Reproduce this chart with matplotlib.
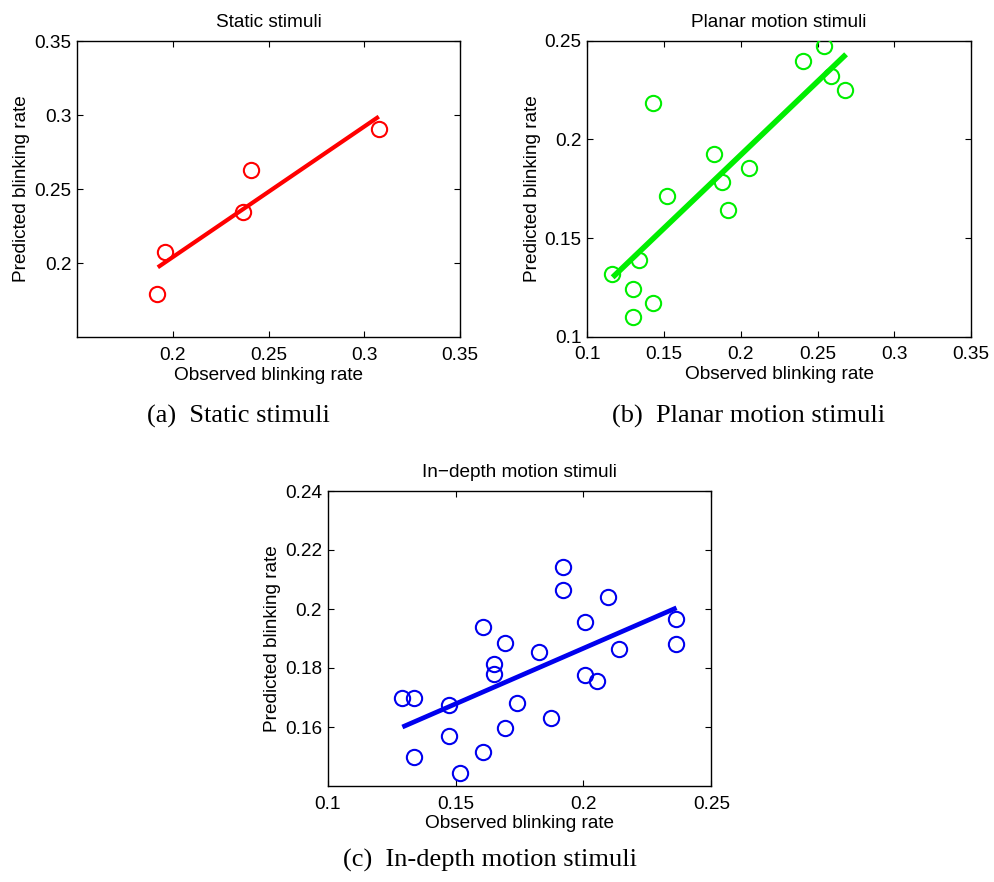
import matplotlib
matplotlib.use("Agg")
import matplotlib.pyplot as plt
import numpy as np

# ---------------- data ----------------
static_obs = [0.1918, 0.1960, 0.2366, 0.2408, 0.3078]
static_pred = [0.1790, 0.2077, 0.2346, 0.2627, 0.2903]
static_fit_x = [0.1922, 0.3076]
static_fit_y = [0.1971, 0.2989]

planar_obs = [0.1159, 0.1337, 0.1295, 0.1295, 0.1428, 0.1428, 0.1517, 0.1828,
              0.1875, 0.1914, 0.2051, 0.2407, 0.2544, 0.2586, 0.2679]
planar_pred = [0.1316, 0.1389, 0.1243, 0.1101, 0.1171, 0.2182, 0.1713, 0.1927,
               0.1785, 0.1640, 0.1856, 0.2397, 0.2473, 0.2323, 0.2250]
planar_fit_x = [0.1165, 0.2686]
planar_fit_y = [0.1301, 0.2431]

depth_obs = [0.1292, 0.1338, 0.1338, 0.1473, 0.1473, 0.1519, 0.1606, 0.1606,
             0.1652, 0.1652, 0.1695, 0.1695, 0.1740, 0.1827, 0.1873, 0.1919,
             0.1919, 0.2007, 0.2007, 0.2052, 0.2095, 0.2140, 0.2362, 0.2362]
depth_pred = [0.1698, 0.1698, 0.1497, 0.1674, 0.1570, 0.1445, 0.1938, 0.1515,
              0.1814, 0.1778, 0.1884, 0.1597, 0.1680, 0.1855, 0.1632, 0.2141,
              0.2066, 0.1956, 0.1775, 0.1756, 0.2042, 0.1864, 0.1965, 0.1880]
depth_fit_x = [0.1292, 0.2364]
depth_fit_y = [0.1600, 0.2004]

titles = ["Static stimuli", "Planar motion stimuli", "In\u2212depth motion stimuli"]
captions = ["(a)  Static stimuli", "(b)  Planar motion stimuli", "(c)  In-depth motion stimuli"]
xlabel = "Observed blinking rate"
ylabel = "Predicted blinking rate"

a_xticks = [0.2, 0.25, 0.3, 0.35]
a_xticklabels = ["0.2", "0.25", "0.3", "0.35"]
a_yticks = [0.2, 0.25, 0.3, 0.35]
a_yticklabels = ["0.2", "0.25", "0.3", "0.35"]
b_xticks = [0.1, 0.15, 0.2, 0.25, 0.3, 0.35]
b_xticklabels = ["0.1", "0.15", "0.2", "0.25", "0.3", "0.35"]
b_yticks = [0.1, 0.15, 0.2, 0.25]
b_yticklabels = ["0.1", "0.15", "0.2", "0.25"]
c_xticks = [0.1, 0.15, 0.2, 0.25]
c_xticklabels = ["0.1", "0.15", "0.2", "0.25"]
c_yticks = [0.16, 0.18, 0.2, 0.22, 0.24]
c_yticklabels = ["0.16", "0.18", "0.2", "0.22", "0.24"]

# ---------------- figure ----------------
W, H = 994, 882
fig = plt.figure(figsize=(W / 100, H / 100), dpi=100)
plt.rcParams['font.family'] = ['Liberation Sans', 'DejaVu Sans']
FS = 13.7

def px_axes(left, top, right, bottom):
    return [left / W, 1 - bottom / H, (right - left) / W, (bottom - top) / H]

panels = [
    dict(rect=px_axes(77, 41, 460, 337), obs=static_obs, pred=static_pred,
         fx=static_fit_x, fy=static_fit_y, color="#ff0000", lw=3.0,
         xlim=(0.15, 0.35), ylim=(0.15, 0.35),
         xt=a_xticks, xtl=a_xticklabels, yt=a_yticks, ytl=a_yticklabels),
    dict(rect=px_axes(587.3, 40.7, 971, 336.7), obs=planar_obs, pred=planar_pred,
         fx=planar_fit_x, fy=planar_fit_y, color="#00ee00", lw=4.0,
         xlim=(0.1, 0.35), ylim=(0.1, 0.25),
         xt=b_xticks, xtl=b_xticklabels, yt=b_yticks, ytl=b_yticklabels),
    dict(rect=px_axes(327.7, 491, 711.3, 786), obs=depth_obs, pred=depth_pred,
         fx=depth_fit_x, fy=depth_fit_y, color="#0000ee", lw=3.4,
         xlim=(0.1, 0.25), ylim=(0.14, 0.24),
         xt=c_xticks, xtl=c_xticklabels, yt=c_yticks, ytl=c_yticklabels),
]

for i, p in enumerate(panels):
    ax = fig.add_axes(p["rect"])
    ax.plot(p["fx"], p["fy"], color=p["color"], lw=p["lw"], solid_capstyle="butt", zorder=2)
    ax.plot(p["obs"], p["pred"], linestyle="none", marker="o", markersize=11,
            markerfacecolor="none", markeredgecolor=p["color"], markeredgewidth=1.5, zorder=3)
    ax.set_xlim(*p["xlim"])
    ax.set_ylim(*p["ylim"])
    ax.set_xticks(p["xt"])
    ax.set_xticklabels(p["xtl"])
    ax.set_yticks(p["yt"])
    ax.set_yticklabels(p["ytl"])
    ax.tick_params(direction="in", top=True, right=True, length=4, width=0.8,
                   labelsize=FS, pad=4, colors="black")
    ax.tick_params(axis="x", pad=7)
    for s in ax.spines.values():
        s.set_linewidth(1.0)
    ax.set_title(titles[i], fontsize=FS, pad=10)
    ax.set_xlabel(xlabel, fontsize=FS, labelpad=2)
    ax.set_ylabel(ylabel, fontsize=FS, labelpad=3)

cap_pos = [(238, 416), (749, 416), (490, 860)]
for (cx, cy), txt in zip(cap_pos, captions):
    fig.text(cx / W, 1 - cy / H, txt, ha="center", va="center",
             family=["Liberation Serif", "DejaVu Serif"], fontsize=19)

fig.savefig("out.png", dpi=100, facecolor="white")
